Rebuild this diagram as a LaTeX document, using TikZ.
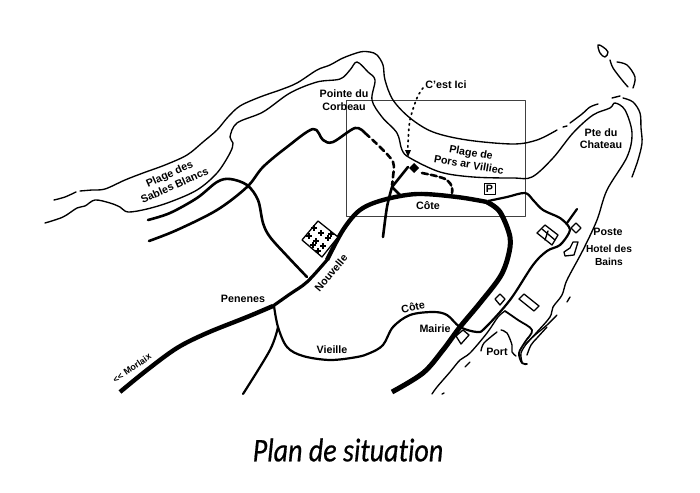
\documentclass[tikz,border=0pt]{standalone}
\usepackage{fontspec}
\setmainfont{Liberation Sans}
\newfontfamily\titlefont[Ligatures=NoCommon,ItalicFeatures={FakeBold=0.6}]{Carlito}
\begin{document}
\begin{tikzpicture}[x=1pt,y=-1pt,line join=round,line cap=round,
  coast/.style={line width=1.35pt,black},
  coastb/.style={line width=1.8pt,black},
  road/.style={line width=2.6pt,black},
  thin road/.style={line width=2.2pt,black},
  bigroad/.style={line width=4.4pt,black,line cap=butt},
  house/.style={line width=1.3pt,black,fill=white},
  lab/.style={font=\fontsize{10.7}{11}\selectfont\bfseries,inner sep=0pt,align=center,text=black},
  sm/.style={smooth,tension=0.55}]
\useasboundingbox (0,0) rectangle (700,492);
\fill[white] (0,0) rectangle (700,492);
% frame
\draw[line width=0.9pt,black!75,line cap=butt] (346,100) rectangle (525,216);
% north coast
\draw[coast] plot[sm] coordinates {(54,200) (65,197) (76,192)};
\draw[coast] plot[sm] coordinates {(80,191) (92,190) (105,189) (125,180) (143,173) (165,165) (187,155) (203,142) (217,130) (228,117) (240,106) (260,97) (280,90) (297,83) (317,70) (330,65) (343,58) (360,52) (370,52) (377,55) (383,65) (385,80) (393,100) (410,118) (433,132) (467,140) (513,144) (537,140) (557,130)};
\draw[coast] (563,127) -- (567,126);
\draw[coast] plot[sm] coordinates {(570,123) (582,114) (590,107) (598,104)};
\draw[coast] (612,98) -- (620,96);
\draw[coast] plot[sm] coordinates {(623,98) (633,102) (640,113) (641,128) (642,143) (638,160) (632,177)};
% south coast
\draw[coast] plot[sm] coordinates {(45,223) (63,217) (77,208) (85,206) (95,200) (110,203) (120,207) (128,212) (147,209) (170,202) (197,190) (217,173) (230,153) (233,143) (230,137) (237,123) (263,112) (290,93) (317,82) (340,79) (350,70) (357,62) (368,72) (375,80) (372,100) (382,117) (397,133) (402,150) (410,158) (440,172) (473,177) (513,178) (532,177) (553,158) (573,133) (593,115) (610,108) (615,103) (625,110) (632,133) (627,157) (607,190) (597,220) (583,250) (567,280) (562,295) (553,307) (550,317) (537,332) (525,345)};
% islands
\draw[coast] plot[smooth cycle,tension=0.6] coordinates {(598,45) (603,47) (608,52) (605,57) (600,53)};
\draw[coast] plot[sm] coordinates {(610,60) (613,68) (622,80) (628,87)};
\draw[coast] plot[sm] coordinates {(617,62) (627,65) (635,77) (633,88)};
% port coast
\draw[coast] plot[sm] coordinates {(432,394) (437,387) (450,372) (460,360) (470,353) (487,333) (498,317) (505,311)};
\draw[coast] (442,394) -- (444,393);
\draw[coast] (465,367) -- (470,362);
\draw[coast] (567,302) -- (570,297);
\draw[coastb] plot[sm] coordinates {(505,311) (518,320) (532,330) (525,342) (519,353) (522,363) (527,364)};
\draw[coast] plot[sm] coordinates {(522,362) (521,353) (527,343) (535,335) (547,325) (557,315)};
\draw[coast] plot[sm] coordinates {(527,355) (531,345) (537,338) (547,327)};
\draw[coast] plot[sm] coordinates {(481,351) (484,343) (497,332)};
\draw[coast] plot[sm] coordinates {(501,330) (507,333) (512,345) (512,352) (516,356)};
% main road
\draw[bigroad] plot[sm] coordinates {(120,392) (147,370) (177,348) (207,333) (247,317) (273,306)};
\draw[line width=3.2pt] plot[sm] coordinates {(273,306) (290,294) (307,282) (327,260)};
\draw[bigroad] plot[sm] coordinates {(327,260) (343,230) (360,210) (383,200) (417,194) (457,197) (487,202)};
\draw[line width=5pt,line cap=butt] plot[sm] coordinates {(487,202) (500,212) (510,237) (508,257) (500,277) (480,303) (460,327) (443,350) (423,373) (392,392)};
% secondary roads
\draw[road] plot[sm] coordinates {(148,220) (170,213) (197,198) (217,182) (230,179) (247,185) (258,200) (263,223) (270,237) (288,257) (307,277)};
\draw[road] plot[sm] coordinates {(149,241) (177,230) (217,210) (247,187) (263,167) (287,147) (313,129) (323,140) (333,142) (355,128) (365,133)};
\draw[road,dash pattern=on 6pt off 4pt] plot[sm] coordinates {(365,133) (380,147) (393,162) (393,177) (392,185)};
\draw[road] (408,167) -- (392,187) -- (400,195);
\draw[road] plot[sm] coordinates {(392,187) (387,207) (383,237)};
\draw[road,dash pattern=on 6pt off 3pt] plot[sm] coordinates {(422,173) (436,176) (447,180) (452,187) (452,193)};
\draw[thin road] plot[sm] coordinates {(274,306) (278,327) (287,347) (303,356) (330,360) (357,357) (370,353) (383,345) (393,327) (410,315) (433,312) (447,315) (460,327) (477,332) (485,328) (510,300) (533,265) (547,251) (560,245) (569,233) (569,227) (560,218) (543,210) (533,200) (525,193) (507,197) (488,201)};
\draw[thin road] plot[sm] coordinates {(278,327) (270,350) (243,394)};
\draw[thin road] (567,223) -- (577,209);
% dotted route
\draw[line width=1.7pt,dash pattern=on 1.5pt off 4pt] plot[sm] coordinates {(423,88) (417,98) (410,120) (408,143) (408,150)};
\fill[black] (405,150) -- (411,150) -- (408,157) -- cycle;
\fill[black] (414,163) -- (419,168) -- (414,173) -- (409,168) -- cycle;
% parking
\draw[line width=1pt] (484,183) rectangle (495,194);
\node[lab] (parking) at (489.5,188.5) {P};
% buildings
\draw[house] (545,225) -- (558,235) -- (552,245) -- (537,233) -- cycle;
\draw[house] (542,229) -- (555,240);
\draw[house] (548,231) -- (545,240);
\draw[house] (576,223) -- (581,228) -- (576,233) -- (571,228) -- cycle;
\draw[house] (573,242) -- (578,242) -- (574,255) -- (565,256) -- (564,252) -- (570,248) -- cycle;
\draw[house] (456,336) -- (463,330) -- (469,335) -- (461,344) -- cycle;
\draw[house] (495,299) -- (500,294) -- (505,299) -- (500,305) -- cycle;
\draw[house] (519,299) -- (524,294) -- (539,306) -- (534,311) -- cycle;
% village
\draw[line width=1.3pt,fill=white] (318,221) -- (338,237) -- (322,257) -- (302,240) -- cycle;
\foreach \p/\q in {314/228,321/233,328/238,309/236,316/241,323/246,313/245,331/234,318/251}{
  \draw[line width=1.3pt,line cap=butt] (\p-2.6,\q) -- (\p+2.6,\q) (\p,\q-2.6) -- (\p,\q+2.6);
}
% labels
\node[lab] (pointe) at (344,100) {Pointe du\\[1.5pt]Corbeau};
\node[lab] (ici) at (446,85) {C'est Ici};
\node[lab,rotate=-10] (pors) at (470,158.5) {Plage de\\[1.5pt]Pors ar Villiec};
\node[lab] (pte) at (601,138.5) {Pte du\\[1.5pt]Chateau};
\node[lab] (cote1) at (428,206) {Côte};
\node[lab,rotate=24] (sables) at (172,179.5) {Plage des\\[1.5pt]Sables Blancs};
\node[lab,rotate=50] (nouvelle) at (331,273) {Nouvelle};
\node[lab] (penenes) at (243,299) {Penenes};
\node[lab,font=\fontsize{9}{10}\selectfont\bfseries,rotate=35] (morlaix) at (132,368) {<{}< Morlaix};
\node[lab] (vieille) at (332,350) {Vieille};
\node[lab,rotate=12] (cote2) at (413,307) {Côte};
\node[lab] (mairie) at (435,329) {Mairie};
\node[lab] (port) at (497,352) {Port};
\node[lab] (poste) at (608,232) {Poste};
\node[lab,font=\fontsize{10.2}{11}\selectfont\bfseries] (hotel) at (609,255.5) {Hotel des\\[1.5pt]Bains};
\node[inner sep=0pt,text=black,xscale=0.85,transform shape] (titre) at (348,450) {\titlefont\itshape\fontsize{33}{36}\selectfont Plan de situation};
\end{tikzpicture}
\end{document}
